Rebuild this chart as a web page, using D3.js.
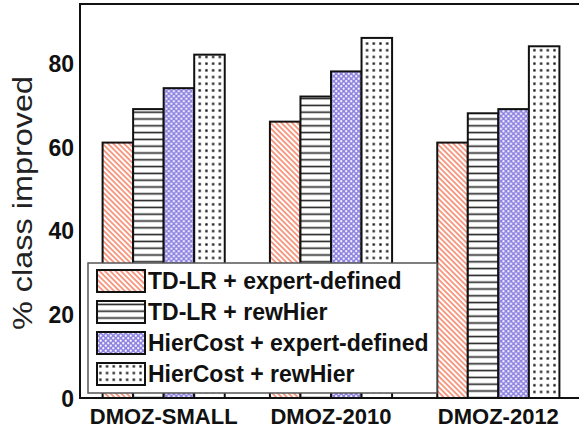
<!DOCTYPE html>
<html>
<head>
<meta charset="utf-8">
<script src="https://cdn.jsdelivr.net/npm/d3@7"></script>
<style>
  html, body { margin: 0; padding: 0; background: #fff; }
  svg { display: block; }
  text { font-family: "Liberation Sans", Arial, Helvetica, sans-serif; }
</style>
</head>
<body>
<div id="chart"></div>
<script>
// Datasets along the x axis
const categories = ["DMOZ-SMALL", "DMOZ-2010", "DMOZ-2012"];
// Methods (one bar per method in every dataset)
const seriesNames = [
  "TD-LR + expert-defined",
  "TD-LR + rewHier",
  "HierCost + expert-defined",
  "HierCost + rewHier"
];
// % of classes improved, one array per method, ordered like categories
const tdlrExpert     = [61, 66, 61];
const tdlrRewHier    = [69, 72, 68];
const hierCostExpert = [74, 78, 69];
const hierCostRew    = [82, 86, 84];
const yTicks = [0, 20, 40, 60, 80];

const seriesValues = [tdlrExpert, tdlrRewHier, hierCostExpert, hierCostRew];
const patternIds = ["pat-diag", "pat-horiz", "pat-cross", "pat-dots"];

const W = 579, H = 429;
const plot = { left: 80, right: 582, top: 4, bottom: 398 };

const svg = d3.select("#chart").append("svg")
  .attr("width", W).attr("height", H);

// Fill patterns for the four methods
const defs = svg.append("defs");

const pDiag = defs.append("pattern").attr("id", "pat-diag")
  .attr("patternUnits", "userSpaceOnUse")
  .attr("width", 3.8).attr("height", 10)
  .attr("patternTransform", "rotate(-45)");
pDiag.append("rect").attr("width", 3.8).attr("height", 10).attr("fill", "#fff");
pDiag.append("line").attr("x1", 1).attr("x2", 1).attr("y1", 0).attr("y2", 10)
  .attr("stroke", "#f26a48").attr("stroke-width", 1.3);

const pHoriz = defs.append("pattern").attr("id", "pat-horiz")
  .attr("patternUnits", "userSpaceOnUse")
  .attr("width", 10).attr("height", 6.8);
pHoriz.append("rect").attr("width", 10).attr("height", 6.8).attr("fill", "#fff");
pHoriz.append("line").attr("x1", 0).attr("x2", 10).attr("y1", 3.4).attr("y2", 3.4)
  .attr("stroke", "#222").attr("stroke-width", 1.6);

const pCross = defs.append("pattern").attr("id", "pat-cross")
  .attr("patternUnits", "userSpaceOnUse")
  .attr("width", 5).attr("height", 5);
pCross.append("rect").attr("width", 5).attr("height", 5).attr("fill", "#8c82e0");
pCross.append("circle").attr("cx", 1.25).attr("cy", 1.25).attr("r", 1.15).attr("fill", "#f4f2ff");
pCross.append("circle").attr("cx", 3.75).attr("cy", 3.75).attr("r", 1.15).attr("fill", "#f4f2ff");

const pDots = defs.append("pattern").attr("id", "pat-dots")
  .attr("patternUnits", "userSpaceOnUse")
  .attr("width", 6.7).attr("height", 6.7);
pDots.append("rect").attr("width", 6.7).attr("height", 6.7).attr("fill", "#fff");
pDots.append("rect").attr("x", 2.2).attr("y", 2.2).attr("width", 2.3).attr("height", 2.3).attr("fill", "#111");

// Scales
const x0 = d3.scaleBand().domain(categories)
  .range([plot.left, plot.right])
  .paddingInner(0.27).paddingOuter(0.135);
const x1 = d3.scaleBand().domain(d3.range(seriesNames.length))
  .range([0, x0.bandwidth()]).padding(0);
const y = d3.scaleLinear().domain([0, 94.1]).range([plot.bottom, plot.top]);

// Bars
const groups = svg.append("g").selectAll("g")
  .data(categories).join("g")
  .attr("transform", c => `translate(${x0(c)},0)`);

groups.selectAll("rect")
  .data((c, ci) => seriesValues.map((vals, si) => ({ si, v: vals[ci] })))
  .join("rect")
  .attr("x", d => x1(d.si))
  .attr("y", d => y(d.v))
  .attr("width", x1.bandwidth())
  .attr("height", d => y(0) - y(d.v))
  .attr("fill", d => `url(#${patternIds[d.si]})`)
  .attr("stroke", "#111")
  .attr("stroke-width", 2);

// Y axis tick labels (no tick marks)
const yAxis = d3.axisLeft(y).tickValues(yTicks).tickSize(0).tickPadding(6);
const gy = svg.append("g").attr("transform", `translate(${plot.left},0)`).call(yAxis);
gy.select(".domain").remove();
gy.selectAll("text")
  .attr("font-family", "'Liberation Sans', Arial, sans-serif")
  .attr("font-size", 23).attr("font-weight", "bold").attr("fill", "#111")
  .attr("dy", "0.36em");

// X axis category labels
const xAxis = d3.axisBottom(x0).tickSize(0).tickPadding(10);
const gx = svg.append("g").attr("transform", `translate(0,${plot.bottom})`).call(xAxis);
gx.select(".domain").remove();
gx.selectAll("text")
  .attr("font-family", "'Liberation Sans', Arial, sans-serif")
  .attr("font-size", 22).attr("font-weight", "bold").attr("fill", "#111");

// Frame around the plot
svg.append("rect")
  .attr("x", plot.left).attr("y", plot.top)
  .attr("width", plot.right - plot.left).attr("height", plot.bottom - plot.top)
  .attr("fill", "none").attr("stroke", "#111").attr("stroke-width", 2);

// Y axis title
svg.append("text")
  .attr("transform", `translate(32,${(76 + 330) / 2}) rotate(-90)`)
  .attr("text-anchor", "middle")
  .attr("font-size", 28)
  .attr("textLength", 254)
  .attr("lengthAdjust", "spacingAndGlyphs")
  .attr("fill", "#222")
  .text("% class improved");

// Legend
const legend = svg.append("g");
legend.append("rect")
  .attr("x", 88).attr("y", 263).attr("width", 349).attr("height", 130)
  .attr("fill", "#fff").attr("stroke", "#555").attr("stroke-width", 1.5);

const rows = legend.selectAll("g.row").data(seriesNames).join("g")
  .attr("class", "row")
  .attr("transform", (d, i) => `translate(97,${270 + i * 31})`);
rows.append("rect")
  .attr("width", 48).attr("height", 22)
  .attr("fill", (d, i) => `url(#${patternIds[i]})`)
  .attr("stroke", "#111").attr("stroke-width", 2);
rows.append("text")
  .attr("x", 51).attr("y", 19)
  .attr("font-size", 23).attr("font-weight", "bold").attr("fill", "#111")
  .text(d => d);
</script>
</body>
</html>
